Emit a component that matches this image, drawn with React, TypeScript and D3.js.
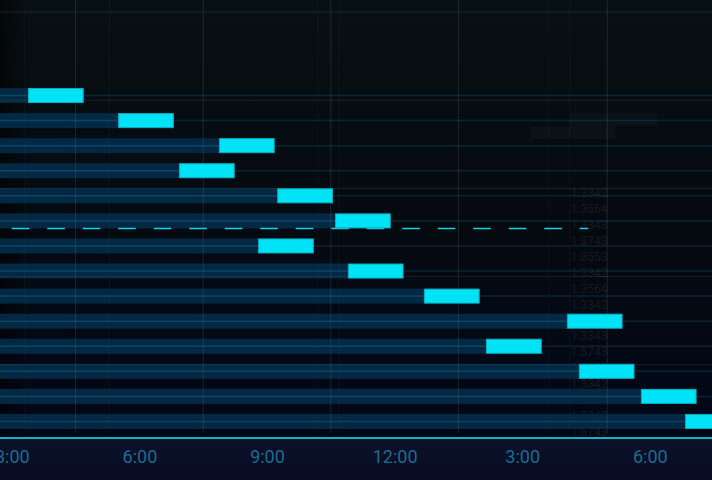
import { useEffect, useRef } from "react";
import * as d3 from "d3";

// tasks, top to bottom
const taskNames = [
  "Task 1", "Task 2", "Task 3", "Task 4", "Task 5", "Task 6", "Task 7",
  "Task 8", "Task 9", "Task 10", "Task 11", "Task 12", "Task 13", "Task 14",
];
// start of each slot, in hours of the day (3 = 3:00, 15 = 3:00 pm)
const startHours = [3.38, 5.5, 7.87, 6.93, 9.24, 10.6, 8.79, 10.9, 12.69, 16.05, 14.15, 16.33, 17.79, 18.83];
const durationHours = [1.31, 1.31, 1.31, 1.31, 1.31, 1.31, 1.31, 1.31, 1.31, 1.31, 1.31, 1.31, 1.31, 1.31];

const tickHours = [3, 6, 9, 12, 15, 18];
const tickLabels = ["3:00", "6:00", "9:00", "12:00", "3:00", "6:00"];

// grid lines
const gridHours = [4.5, 7.5, 10.5, 13.5, 17];
const faintGridHours = [3.31, 5.29, 10.2, 10.69, 15.63, 16.12];
const gridLevels = [1, 2, 3, 4, 5];

// dashed reference line under "Task 6"
const refLineTask = "Task 6";
const refLineFrom = 3;
const refLineTo = 16.55;

// faded price column in the background
const ghostValues = [
  "1.3342", "1.3564", "1.3343", "1.8743", "1.8553", "1.3342", "1.3564", "1.3342",
  "1.3564", "1.3343", "1.8743", "1.8553", "1.3342", "1.3564", "1.3343", "1.8743",
];
const ghostHour = 16.14;
const ghostBoxes = [
  { task: "Task 2", from: 16.12, to: 18.17, shift: 0 },
  { task: "Task 2", from: 15.18, to: 17.2, shift: 1 },
];

const W = 712;
const H = 480;

export default function App() {
  const ref = useRef<SVGSVGElement | null>(null);

  useEffect(() => {
    const svg = d3.select(ref.current);
    svg.selectAll("*").remove();

    const plotBottom = 433;
    const axisY = 438;

    const x = d3.scaleLinear().domain([3, 18]).range([11.8, 649.8]);
    const y = d3.scaleBand<string>()
      .domain(taskNames)
      .range([83, 434])
      .paddingInner(0.4)
      .paddingOuter(0.2);
    const bw = y.bandwidth();
    const yGrid = d3.scaleLinear().domain([0, 5]).range([453, 12]);

    const defs = svg.append("defs");
    const bg = defs.append("linearGradient").attr("id", "bg")
      .attr("x1", 0).attr("y1", 0).attr("x2", 0).attr("y2", 1);
    bg.append("stop").attr("offset", "0%").attr("stop-color", "#071013");
    bg.append("stop").attr("offset", "45%").attr("stop-color", "#050a10");
    bg.append("stop").attr("offset", "90%").attr("stop-color", "#020718");
    const side = defs.append("linearGradient").attr("id", "side")
      .attr("x1", 0).attr("y1", 0).attr("x2", 1).attr("y2", 0);
    side.append("stop").attr("offset", "0%").attr("stop-color", "#000").attr("stop-opacity", 0.55);
    side.append("stop").attr("offset", "100%").attr("stop-color", "#000").attr("stop-opacity", 0);
    const foot = defs.append("linearGradient").attr("id", "foot")
      .attr("x1", 0).attr("y1", 0).attr("x2", 0).attr("y2", 1);
    foot.append("stop").attr("offset", "0%").attr("stop-color", "#0a1129");
    foot.append("stop").attr("offset", "100%").attr("stop-color", "#080d22");

    // background
    svg.append("rect").attr("width", W).attr("height", H).attr("fill", "url(#bg)");
    svg.append("rect").attr("width", 30).attr("height", plotBottom).attr("fill", "url(#side)");
    svg.append("rect").attr("x", 0).attr("y", axisY).attr("width", W).attr("height", H - axisY)
      .attr("fill", "url(#foot)");

    // ghost boxes + column of numbers
    svg.append("g").selectAll("rect")
      .data(ghostBoxes)
      .join("rect")
      .attr("x", d => x(d.from))
      .attr("y", d => (y(d.task) as number) + d.shift * 13)
      .attr("width", d => x(d.to) - x(d.from))
      .attr("height", 13)
      .attr("fill", "rgba(120,160,175,0.045)");

    const ghostY = d3.scalePoint<number>()
      .domain(d3.range(ghostValues.length))
      .range([197, 436]);
    svg.append("g").selectAll("text")
      .data(ghostValues)
      .join("text")
      .attr("x", x(ghostHour))
      .attr("y", (d, i) => ghostY(i) as number)
      .attr("font-family", "Roboto, sans-serif")
      .attr("font-size", 12)
      .attr("fill", "#161b1f")
      .text(d => d);

    // row guide lines
    svg.append("g").selectAll("line")
      .data(taskNames)
      .join("line")
      .attr("x1", 0).attr("x2", W)
      .attr("y1", d => (y(d) as number) + bw / 2)
      .attr("y2", d => (y(d) as number) + bw / 2)
      .attr("stroke", "rgba(20,110,140,0.26)")
      .attr("stroke-width", 1.5);

    // tracks (time elapsed before each slot)
    svg.append("g").selectAll("rect")
      .data(taskNames)
      .join("rect")
      .attr("x", 0)
      .attr("y", d => y(d) as number)
      .attr("width", (d, i) => x(startHours[i]))
      .attr("height", bw)
      .attr("fill", "#032b48")
      .attr("opacity", 0.92);
    svg.append("g").selectAll("line")
      .data(taskNames)
      .join("line")
      .attr("x1", 0)
      .attr("x2", (d, i) => x(startHours[i]))
      .attr("y1", d => (y(d) as number) + bw / 2)
      .attr("y2", d => (y(d) as number) + bw / 2)
      .attr("stroke", "#0a4664")
      .attr("stroke-width", 1.5);

    // grid
    const grid = svg.append("g");
    grid.selectAll(".v")
      .data(gridHours)
      .join("line")
      .attr("x1", d => x(d)).attr("x2", d => x(d))
      .attr("y1", 0).attr("y2", plotBottom)
      .attr("stroke", "rgba(130,140,145,0.2)");
    grid.selectAll(".vf")
      .data(faintGridHours)
      .join("line")
      .attr("x1", d => x(d)).attr("x2", d => x(d))
      .attr("y1", 0).attr("y2", plotBottom)
      .attr("stroke", "rgba(130,140,145,0.07)");
    grid.selectAll(".h")
      .data(gridLevels)
      .join("line")
      .attr("x1", 0).attr("x2", W)
      .attr("y1", d => yGrid(d)).attr("y2", d => yGrid(d))
      .attr("stroke", "rgba(130,140,145,0.18)");

    // dashed reference line
    const refY = (y(refLineTask) as number) + bw;
    svg.append("line")
      .attr("x1", x(refLineFrom)).attr("x2", x(refLineTo))
      .attr("y1", refY).attr("y2", refY)
      .attr("stroke", "#17d2e2")
      .attr("stroke-width", 1.5)
      .attr("stroke-dasharray", "17.5 18");

    // slots
    svg.append("g").selectAll("rect")
      .data(taskNames)
      .join("rect")
      .attr("x", (d, i) => x(startHours[i]) + 0.5)
      .attr("y", d => (y(d) as number) + 0.5)
      .attr("width", (d, i) => x(startHours[i] + durationHours[i]) - x(startHours[i]) - 1)
      .attr("height", bw - 1)
      .attr("fill", "#00e2f6")
      .attr("stroke", "#0aaec2")
      .attr("stroke-width", 1);

    // x axis
    svg.append("line")
      .attr("x1", 0).attr("x2", W)
      .attr("y1", axisY).attr("y2", axisY)
      .attr("stroke", "#1fe8f4")
      .attr("stroke-width", 1.5);
    const xAxis = svg.append("g")
      .attr("transform", `translate(0, ${axisY})`)
      .call(d3.axisBottom(x)
        .tickValues(tickHours)
        .tickFormat((d, i) => tickLabels[i])
        .tickSize(0)
        .tickPadding(12));
    xAxis.select(".domain").remove();
    xAxis.selectAll("text")
      .attr("font-family", "Roboto, sans-serif")
      .attr("font-size", 18)
      .attr("fill", "#1e6b92");
  }, []);

  return (
    <svg
      ref={ref}
      width={W}
      height={H}
      style={{ position: "fixed", left: 0, top: 0, display: "block" }}
    />
  );
}
